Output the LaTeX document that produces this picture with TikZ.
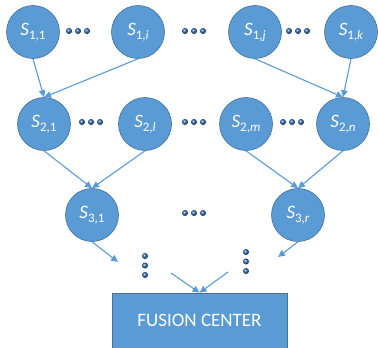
\documentclass[tikz,border=0pt]{standalone}
\usepackage{fontspec}
\setmainfont{Carlito}
\usetikzlibrary{arrows.meta}
\definecolor{nodeblue}{HTML}{5B9BD5}
\definecolor{edgeblue}{HTML}{41719C}
\definecolor{dotblue}{HTML}{2A6AB8}
\tikzset{
  sensor/.style={circle, fill=nodeblue, draw=edgeblue, line width=0.6pt, minimum size=53pt, inner sep=0pt, text=white},
  center/.style={rectangle, fill=nodeblue, draw=edgeblue, line width=0.6pt, minimum width=175pt, minimum height=56pt, inner sep=0pt, text=white, font=\fontsize{19}{19}\selectfont},
  link/.style={draw=nodeblue, line width=1.1pt, -{Triangle[length=7pt,width=6.5pt]}},
  ball/.style={circle, inner sep=0pt, minimum size=6pt, ball color=dotblue},
}
\newcommand{\slbl}[1]{\fontsize{19}{19}\selectfont\textit{S}\raisebox{-4pt}{\fontsize{13}{13}\selectfont #1}}
\newcommand{\hdots}[3]{%
  \node[ball] (#1a) at (#2-9,#3) {};
  \node[ball] (#1b) at (#2,#3) {};
  \node[ball] (#1c) at (#2+9,#3) {};}
\newcommand{\vdotsb}[3]{%
  \node[ball] (#1a) at (#2,#3-9.5) {};
  \node[ball] (#1b) at (#2,#3) {};
  \node[ball] (#1c) at (#2,#3+9.5) {};}
\begin{document}
\begin{tikzpicture}[x=1pt,y=-1pt]
\useasboundingbox (0,0) rectangle (378,348);
% row 1
\node[sensor] (s11) at (33,32) {\slbl{1,1}};
\node[sensor] (s1i) at (138,32) {\slbl{1,\textit{i}}};
\node[sensor] (s1j) at (255,32) {\slbl{1,\textit{j}}};
\node[sensor] (s1k) at (351,32) {\slbl{1,\textit{k}}};
\hdots{d1}{78}{31}
\hdots{d2}{194}{31}
\hdots{d3}{298}{31}
% row 2
\node[sensor] (s21) at (44,124) {\slbl{2,1}};
\node[sensor] (s2l) at (145,124) {\slbl{2,\textit{l}}};
\node[sensor] (s2m) at (246,124) {\slbl{2,\textit{m}}};
\node[sensor] (s2n) at (343,124) {\slbl{2,\textit{n}}};
\hdots{d4}{91}{122}
\hdots{d5}{194}{122}
\hdots{d6}{292}{122}
% row 3
\node[sensor] (s31) at (92,215) {\slbl{3,1}};
\node[sensor] (s3r) at (298,215) {\slbl{3,\textit{r}}};
\hdots{d7}{194}{213}
% vertical dots
\vdotsb{v1}{145}{265.5}
\vdotsb{v2}{246}{261.5}
% fusion center
\node[center] (fc) at (199.5,321) {\raisebox{1pt}{FUSION CENTER}};
\coordinate (e1) at (118,262);
\coordinate (e2) at (278,257);
\coordinate (f1) at (171,273);
\coordinate (f2) at (228,272);
% links
\draw[link] (s11.south) -- (s21.north);
\draw[link] (s1i.south) -- (s21.north);
\draw[link] (s1j.south) -- (s2n.north);
\draw[link] (s1k.south) -- (s2n.north);
\draw[link] (s21.south) -- (s31.north);
\draw[link] (s2l.south) -- (s31.north);
\draw[link] (s2m.south) -- (s3r.north);
\draw[link] (s2n.south) -- (s3r.north);
\draw[link] (s31.south) -- (e1);
\draw[link] (s3r.south) -- (e2);
\draw[link] (f1) -- (fc.north);
\draw[link] (f2) -- (fc.north);
\end{tikzpicture}
\end{document}
